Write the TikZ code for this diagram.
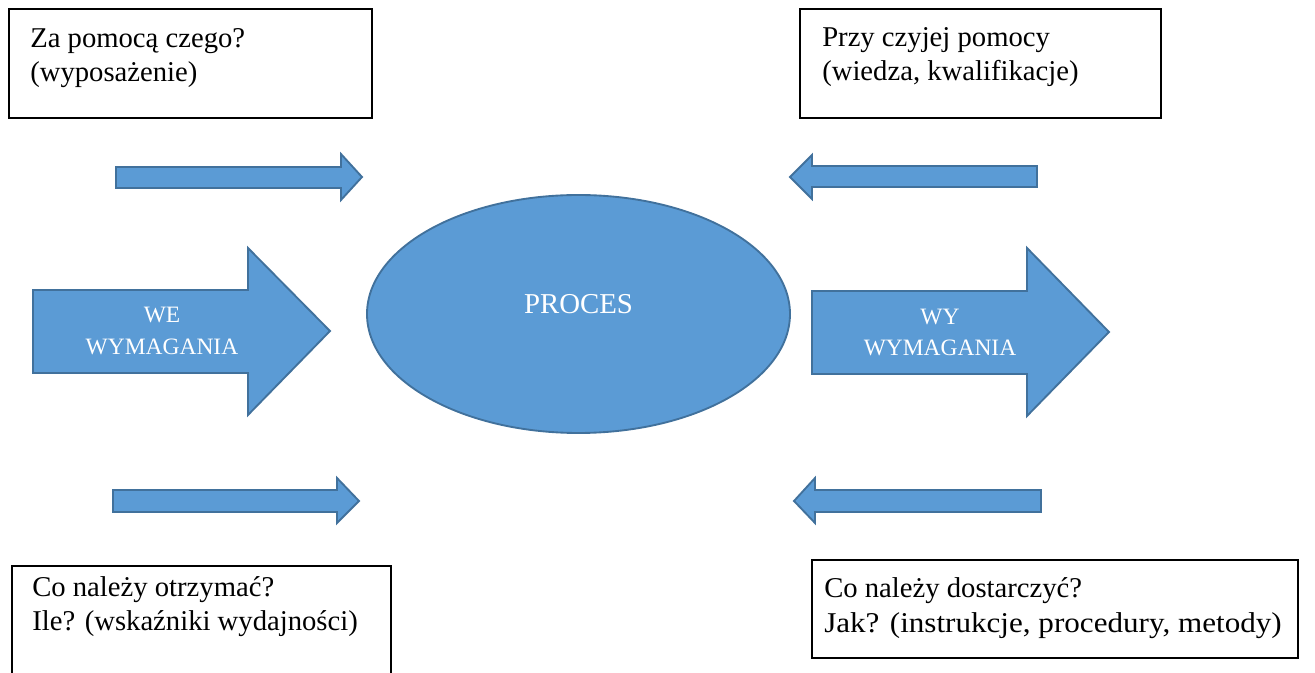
\documentclass[tikz,border=0pt]{standalone}
\usepackage{graphicx}
\usepackage{fontspec}
\setmainfont{Liberation Serif}
\usetikzlibrary{shapes.geometric}
\definecolor{procfill}{HTML}{5B9BD5}
\definecolor{procedge}{HTML}{41719C}
\begin{document}
\begin{tikzpicture}[x=0.75pt,y=-0.75pt,
  qbox/.style={draw=black, line width=1.1pt, fill=white, inner sep=0pt},
  qtext/.style={anchor=base west, inner sep=0pt, font=\fontsize{21.5}{25.5}\selectfont},
  blockarrow/.style={fill=procfill, draw=procedge, line width=1.4pt, line join=miter},
  wtext/.style={anchor=base, text=white, inner sep=0pt, font=\fontsize{17.6}{24}\selectfont},
  ptext/.style={anchor=base, text=white, inner sep=0pt, font=\fontsize{21.6}{26}\selectfont}]
\useasboundingbox (0,0) rectangle (1315,673);
\clip (0,0) rectangle (1315,673);

% question boxes
\node[qbox, minimum width=363*0.75pt, minimum height=109*0.75pt] (boxTL) at (190.5,63.5) {};
\node[qbox, minimum width=361*0.75pt, minimum height=109*0.75pt] (boxTR) at (980.5,63.5) {};
\node[qbox, minimum width=379*0.75pt, minimum height=130*0.75pt] (boxBL) at (201.5,631) {};
\node[qbox, minimum width=486*0.75pt, minimum height=98*0.75pt] (boxBR) at (1055,609) {};

\node[qtext] (tl1) at (30,48) {Za pomocą czego?};
\node[qtext] (tl2) at (30,82) {(wyposażenie)};
\node[qtext] (tr1) at (822,47) {Przy czyjej pomocy};
\node[qtext] (tr2) at (822,81) {(wiedza, kwalifikacje)};
\node[qtext] (bl1) at (32,597) {Co należy otrzymać?};
\node[qtext] (bl2) at (32,630) {Ile? (wskaźniki wydajności)};
\node[qtext] (br1) at (824,598) {Co należy dostarczyć?};
\node[qtext] (br2) at (824,633) {\scalebox{1.085}[1]{Jak? (instrukcje, procedury, metody)}};

% thin arrows
\path[blockarrow] (116,167) -- (341,167) -- (341,154) -- (362,177) -- (341,200) -- (341,188) -- (116,188) -- cycle;
\path[blockarrow] (113,490) -- (337,490) -- (337,478) -- (359,501) -- (337,523) -- (337,512) -- (113,512) -- cycle;
\path[blockarrow] (1037,166) -- (812,166) -- (812,155) -- (790,177) -- (812,199) -- (812,187) -- (1037,187) -- cycle;
\path[blockarrow] (1041,490) -- (815,490) -- (815,478) -- (794,501) -- (815,523) -- (815,512) -- (1041,512) -- cycle;

% input and output arrows
\path[blockarrow] (33,290) -- (248,290) -- (248,248) -- (330,331) -- (248,415) -- (248,373) -- (33,373) -- cycle;
\path[blockarrow] (812,291) -- (1027,291) -- (1027,248) -- (1109,332) -- (1027,416) -- (1027,374) -- (812,374) -- cycle;

\node[wtext] (we1) at (162,323) {WE};
\node[wtext] (we2) at (162,355) {WYMAGANIA};
\node[wtext] (wy1) at (940,325) {WY};
\node[wtext] (wy2) at (940,356) {WYMAGANIA};

% process
\node[ellipse, fill=procfill, draw=procedge, line width=1.4pt, minimum width=423*0.75pt, minimum height=238*0.75pt, inner sep=0pt] (proc) at (578.5,314) {};
\node[ptext] (proctext) at (578.5,314) {PROCES};
\end{tikzpicture}
\end{document}
